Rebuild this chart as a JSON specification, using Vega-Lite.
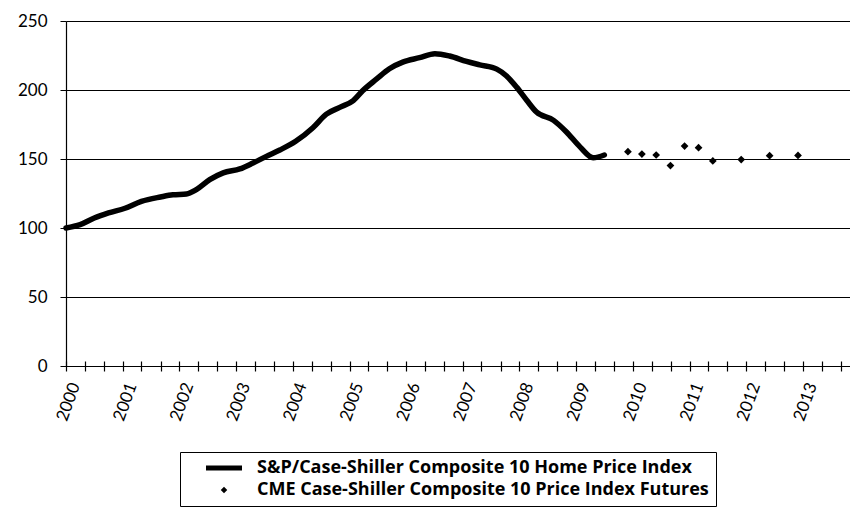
{
  "$schema": "https://vega.github.io/schema/vega-lite/v6.json",
  "autosize": {"type": "none"},
  "padding": {"left": 66, "top": 21, "right": 0, "bottom": 146},
  "width": 784,
  "height": 345,
  "background": "white",
  "config": {
    "view": {"stroke": null},
    "font": "Lato"
  },
  "datasets": {
    "index": [
      {"series": "S&P/Case-Shiller Composite 10 Home Price Index", "date": "2000-01-01", "value": 100.0},
      {"series": "S&P/Case-Shiller Composite 10 Home Price Index", "date": "2000-04-01", "value": 102.4},
      {"series": "S&P/Case-Shiller Composite 10 Home Price Index", "date": "2000-07-01", "value": 107.2},
      {"series": "S&P/Case-Shiller Composite 10 Home Price Index", "date": "2000-10-01", "value": 110.9},
      {"series": "S&P/Case-Shiller Composite 10 Home Price Index", "date": "2001-01-15", "value": 114.3},
      {"series": "S&P/Case-Shiller Composite 10 Home Price Index", "date": "2001-05-01", "value": 119.3},
      {"series": "S&P/Case-Shiller Composite 10 Home Price Index", "date": "2001-09-01", "value": 122.5},
      {"series": "S&P/Case-Shiller Composite 10 Home Price Index", "date": "2001-11-20", "value": 124.1},
      {"series": "S&P/Case-Shiller Composite 10 Home Price Index", "date": "2002-02-15", "value": 124.6},
      {"series": "S&P/Case-Shiller Composite 10 Home Price Index", "date": "2002-04-20", "value": 127.8},
      {"series": "S&P/Case-Shiller Composite 10 Home Price Index", "date": "2002-07-15", "value": 135.0},
      {"series": "S&P/Case-Shiller Composite 10 Home Price Index", "date": "2002-10-10", "value": 139.9},
      {"series": "S&P/Case-Shiller Composite 10 Home Price Index", "date": "2003-01-25", "value": 142.8},
      {"series": "S&P/Case-Shiller Composite 10 Home Price Index", "date": "2003-04-20", "value": 147.1},
      {"series": "S&P/Case-Shiller Composite 10 Home Price Index", "date": "2003-07-15", "value": 151.9},
      {"series": "S&P/Case-Shiller Composite 10 Home Price Index", "date": "2003-10-10", "value": 156.5},
      {"series": "S&P/Case-Shiller Composite 10 Home Price Index", "date": "2004-01-20", "value": 162.8},
      {"series": "S&P/Case-Shiller Composite 10 Home Price Index", "date": "2004-05-10", "value": 172.7},
      {"series": "S&P/Case-Shiller Composite 10 Home Price Index", "date": "2004-08-05", "value": 182.5},
      {"series": "S&P/Case-Shiller Composite 10 Home Price Index", "date": "2004-10-30", "value": 187.4},
      {"series": "S&P/Case-Shiller Composite 10 Home Price Index", "date": "2005-01-25", "value": 192.3},
      {"series": "S&P/Case-Shiller Composite 10 Home Price Index", "date": "2005-03-28", "value": 199.6},
      {"series": "S&P/Case-Shiller Composite 10 Home Price Index", "date": "2005-06-25", "value": 208.0},
      {"series": "S&P/Case-Shiller Composite 10 Home Price Index", "date": "2005-09-15", "value": 215.4},
      {"series": "S&P/Case-Shiller Composite 10 Home Price Index", "date": "2005-12-10", "value": 220.2},
      {"series": "S&P/Case-Shiller Composite 10 Home Price Index", "date": "2006-03-28", "value": 223.4},
      {"series": "S&P/Case-Shiller Composite 10 Home Price Index", "date": "2006-07-05", "value": 226.3},
      {"series": "S&P/Case-Shiller Composite 10 Home Price Index", "date": "2006-10-08", "value": 224.6},
      {"series": "S&P/Case-Shiller Composite 10 Home Price Index", "date": "2007-01-25", "value": 220.7},
      {"series": "S&P/Case-Shiller Composite 10 Home Price Index", "date": "2007-04-20", "value": 218.2},
      {"series": "S&P/Case-Shiller Composite 10 Home Price Index", "date": "2007-08-08", "value": 215.1},
      {"series": "S&P/Case-Shiller Composite 10 Home Price Index", "date": "2007-10-08", "value": 210.3},
      {"series": "S&P/Case-Shiller Composite 10 Home Price Index", "date": "2007-12-15", "value": 201.9},
      {"series": "S&P/Case-Shiller Composite 10 Home Price Index", "date": "2008-02-18", "value": 192.4},
      {"series": "S&P/Case-Shiller Composite 10 Home Price Index", "date": "2008-04-20", "value": 184.0},
      {"series": "S&P/Case-Shiller Composite 10 Home Price Index", "date": "2008-08-08", "value": 178.0},
      {"series": "S&P/Case-Shiller Composite 10 Home Price Index", "date": "2008-10-30", "value": 169.6},
      {"series": "S&P/Case-Shiller Composite 10 Home Price Index", "date": "2009-01-25", "value": 158.8},
      {"series": "S&P/Case-Shiller Composite 10 Home Price Index", "date": "2009-04-20", "value": 150.9},
      {"series": "S&P/Case-Shiller Composite 10 Home Price Index", "date": "2009-07-01", "value": 152.9}
    ],
    "futures": [
      {"series": "CME Case-Shiller Composite 10 Price Index Futures", "date": "2009-11-30", "value": 155.3},
      {"series": "CME Case-Shiller Composite 10 Price Index Futures", "date": "2010-02-28", "value": 153.6},
      {"series": "CME Case-Shiller Composite 10 Price Index Futures", "date": "2010-05-31", "value": 152.9},
      {"series": "CME Case-Shiller Composite 10 Price Index Futures", "date": "2010-08-31", "value": 145.2},
      {"series": "CME Case-Shiller Composite 10 Price Index Futures", "date": "2010-11-30", "value": 159.4},
      {"series": "CME Case-Shiller Composite 10 Price Index Futures", "date": "2011-02-28", "value": 158.2},
      {"series": "CME Case-Shiller Composite 10 Price Index Futures", "date": "2011-05-31", "value": 148.6},
      {"series": "CME Case-Shiller Composite 10 Price Index Futures", "date": "2011-11-30", "value": 149.6},
      {"series": "CME Case-Shiller Composite 10 Price Index Futures", "date": "2012-05-31", "value": 152.4},
      {"series": "CME Case-Shiller Composite 10 Price Index Futures", "date": "2012-11-30", "value": 152.6}
    ]
  },
  "encoding": {
    "x": {
      "field": "date",
      "type": "temporal",
      "scale": {"domain": ["2000-01-01", "2013-10-31"]},
      "axis": {
        "title": null,
        "grid": false,
        "domain": false,
        "offset": -5,
        "tickSize": 10,
        "tickColor": "black",
        "tickWidth": 1.2,
        "tickCount": {"interval": "month", "step": 4},
        "labelExpr": "month(datum.value) == 0 ? timeFormat(datum.value, '%Y') : ''",
        "labelOverlap": false,
        "labelAngle": -70,
        "labelAlign": "right",
        "labelBaseline": "middle",
        "labelPadding": 12,
        "labelOffset": 9,
        "labelFontSize": 17,
        "labelColor": "black",
        "labelFont": "Lato"
      }
    },
    "y": {
      "field": "value",
      "type": "quantitative",
      "scale": {"domain": [0, 250], "nice": false},
      "axis": {
        "title": null,
        "values": [0, 50, 100, 150, 200, 250],
        "grid": true,
        "gridColor": "black",
        "gridWidth": 1.2,
        "domainColor": "black",
        "domainWidth": 1.2,
        "tickColor": "black",
        "tickSize": 6,
        "labelPadding": 13,
        "labelFontSize": 17,
        "labelColor": "black",
        "labelFont": "Lato"
      }
    },
    "color": {
      "field": "series",
      "type": "nominal",
      "scale": {
        "domain": ["S&P/Case-Shiller Composite 10 Home Price Index", "CME Case-Shiller Composite 10 Price Index Futures"],
        "range": ["black", "black"]
      },
      "legend": {
        "title": null,
        "orient": "none",
        "legendX": 114,
        "legendY": 431,
        "strokeColor": "black",
        "fillColor": "white",
        "padding": 7,
        "rowPadding": 3,
        "symbolSize": 100,
        "symbolOffset": 28,
        "labelOffset": 24,
        "labelFont": "Open Sans",
        "labelFontWeight": "bold",
        "labelFontSize": 18,
        "labelColor": "black",
        "labelLimit": 700,
        "encode": {
          "symbols": {
            "update": {
              "shape": {"signal": "datum.index === 0 ? 'M-3.6,0H3.6' : 'M0,-0.65L0.65,0L0,0.65L-0.65,0Z'"},
              "strokeWidth": {"signal": "datum.index === 0 ? 5 : 0"},
              "stroke": {"value": "black"},
              "fill": {"signal": "datum.index === 0 ? 'transparent' : 'black'"},
              "opacity": {"value": 1},
              "fillOpacity": {"value": 1},
              "strokeOpacity": {"value": 1}
            }
          }
        }
      }
    }
  },
  "layer": [
    {
      "data": {"name": "index"},
      "mark": {"type": "line", "interpolate": "monotone", "strokeWidth": 5.5, "strokeCap": "round"}
    },
    {
      "data": {"name": "futures"},
      "mark": {"type": "point", "shape": "diamond", "filled": true, "size": 60, "opacity": 1}
    }
  ]
}
